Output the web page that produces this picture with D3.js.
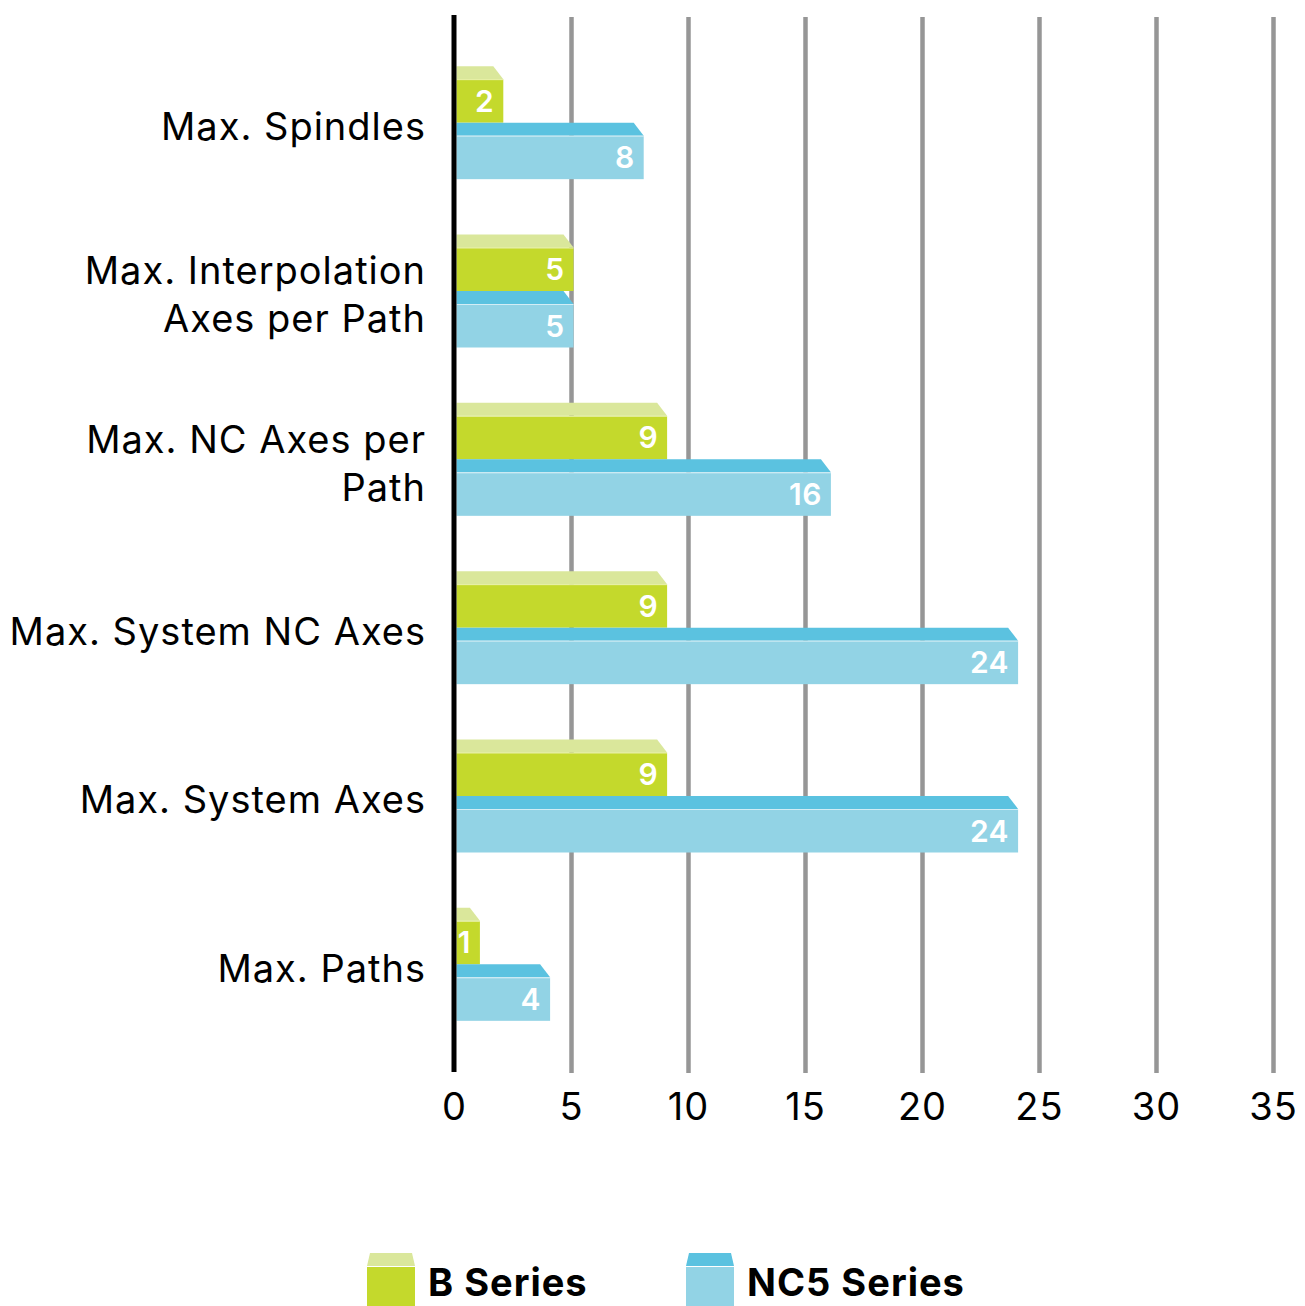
<!DOCTYPE html>
<html>
<head>
<meta charset="utf-8">
<script src="https://cdn.jsdelivr.net/npm/d3@7"></script>
<style>
  html, body { margin: 0; padding: 0; background: #fff; }
  svg { display: block; font-family: Inter, "Noto Sans", sans-serif; }
</style>
</head>
<body>
<div id="chart"></div>
<script>
// data
const categories = [
    "Max. Spindles",
    "Max. Interpolation\nAxes per Path",
    "Max. NC Axes per\nPath",
    "Max. System NC Axes",
    "Max. System Axes",
    "Max. Paths"
];
const seriesNames = ["B Series", "NC5 Series"];
const bSeries = [2, 5, 9, 9, 9, 1];
const nc5Series = [8, 5, 16, 24, 24, 4];
const xTicks = [0, 5, 10, 15, 20, 25, 30, 35];

const W = 1305, H = 1306;
const depth = 13;   // height of the slanted top face
const slant = 10;   // horizontal offset of the top face's right edge
const barShift = 2.5; // bars start just right of the black axis

// colours: front and top face
const colors = {
    "B Series": { front: '#c4d92c', top: '#dae79b' },
    "NC5 Series": { front: '#92d3e5', top: '#5bc2e0' }
};

const svg = d3.select('#chart')
    .append('svg')
    .attr('width', W)
    .attr('height', H);

const x = d3.scaleLinear().domain([0, 35]).range([454, 1273]);
const y = d3.scaleBand().domain(categories).range([45, 1055]);
const ySeries = d3.scaleBand().domain(seriesNames).range([-63, 50]);

const gridTop = 17, gridBottom = 1073;

// grid lines + tick labels
const axis = svg.append('g')
    .attr('transform', `translate(0, ${gridBottom})`)
    .call(d3.axisBottom(x)
        .tickValues(xTicks)
        .tickSize(-(gridBottom - gridTop))
        .tickPadding(20)
        .tickFormat(d3.format('d')));

axis.select('.domain').remove();
axis.selectAll('.tick line')
    .attr('stroke', '#969696')
    .attr('stroke-width', 4.5)
    .attr('display', d => d === 0 ? 'none' : null);
axis.selectAll('.tick text')
    .attr('fill', '#000')
    .attr('font-size', 38)
    .attr('letter-spacing', 1)
    .attr('font-family', 'Inter, "Noto Sans", sans-serif');

// bars
const rows = categories.map((c, i) => ({
    category: c,
    values: [
        { series: "B Series", value: bSeries[i] },
        { series: "NC5 Series", value: nc5Series[i] }
    ]
}));

const groups = svg.selectAll('.group')
    .data(rows)
    .enter().append('g')
    .attr('class', 'group')
    .attr('transform', d => `translate(0, ${y(d.category) + y.bandwidth() / 2})`);

const bars = groups.selectAll('.bar')
    .data(d => d.values)
    .enter().append('g')
    .attr('class', 'bar')
    .attr('transform', `translate(${barShift}, 0)`);

// slanted top face
bars.append('path')
    .attr('fill', d => colors[d.series].top)
    .attr('d', d => {
        const x0 = x(0), x1 = x(d.value);
        const y0 = ySeries(d.series);
        return `M${x0},${y0}L${x1 - slant},${y0}L${x1},${y0 + depth}L${x0},${y0 + depth}Z`;
    });

// front face
bars.append('rect')
    .attr('x', x(0))
    .attr('y', d => ySeries(d.series) + depth)
    .attr('width', d => x(d.value) - x(0))
    .attr('height', ySeries.bandwidth() - depth)
    .attr('fill', d => colors[d.series].front);

// thin highlight between top and front
bars.append('line')
    .attr('x1', x(0))
    .attr('x2', d => x(d.value))
    .attr('y1', d => ySeries(d.series) + depth + 0.5)
    .attr('y2', d => ySeries(d.series) + depth + 0.5)
    .attr('stroke', '#fff')
    .attr('stroke-opacity', 0.6)
    .attr('stroke-width', 1);

// value labels
bars.append('text')
    .attr('x', d => x(d.value) - 9)
    .attr('y', d => ySeries(d.series) + depth + (ySeries.bandwidth() - depth) / 2)
    .attr('dy', '0.36em')
    .attr('text-anchor', 'end')
    .attr('fill', '#fff')
    .attr('font-size', 30)
    .attr('font-weight', 600)
    .attr('letter-spacing', 0.5)
    .text(d => d.value);

// category labels
groups.append('text')
    .attr('text-anchor', 'end')
    .attr('font-size', 38)
    .attr('letter-spacing', 1)
    .attr('fill', '#000')
    .each(function (d) {
        const lines = d.category.split('\n');
        const lh = 48;
        const start = -3 - (lines.length - 1) * lh / 2;
        d3.select(this).selectAll('tspan')
            .data(lines)
            .enter().append('tspan')
            .attr('x', 426)
            .attr('y', (l, i) => start + i * lh)
            .attr('dy', '0.36em')
            .text(l => l);
    });

// black value axis
svg.append('line')
    .attr('x1', x(0))
    .attr('x2', x(0))
    .attr('y1', 15)
    .attr('y2', 1072)
    .attr('stroke', '#000')
    .attr('stroke-width', 5);

// legend
const legendX = [367, 686];
const legend = svg.selectAll('.legend')
    .data(seriesNames)
    .enter().append('g')
    .attr('class', 'legend')
    .attr('transform', (d, i) => `translate(${legendX[i]}, 1253)`);

legend.append('path')
    .attr('fill', d => colors[d].top)
    .attr('d', 'M3,0L45,0L48,13L0,13Z');

legend.append('rect')
    .attr('y', 14)
    .attr('width', 48)
    .attr('height', 45)
    .attr('fill', d => colors[d].front);

legend.append('text')
    .attr('x', 61)
    .attr('y', 43)
    .attr('font-size', 38)
    .attr('font-weight', 700)
    .attr('letter-spacing', 1)
    .attr('fill', '#000')
    .text(d => d);
</script>
</body>
</html>
